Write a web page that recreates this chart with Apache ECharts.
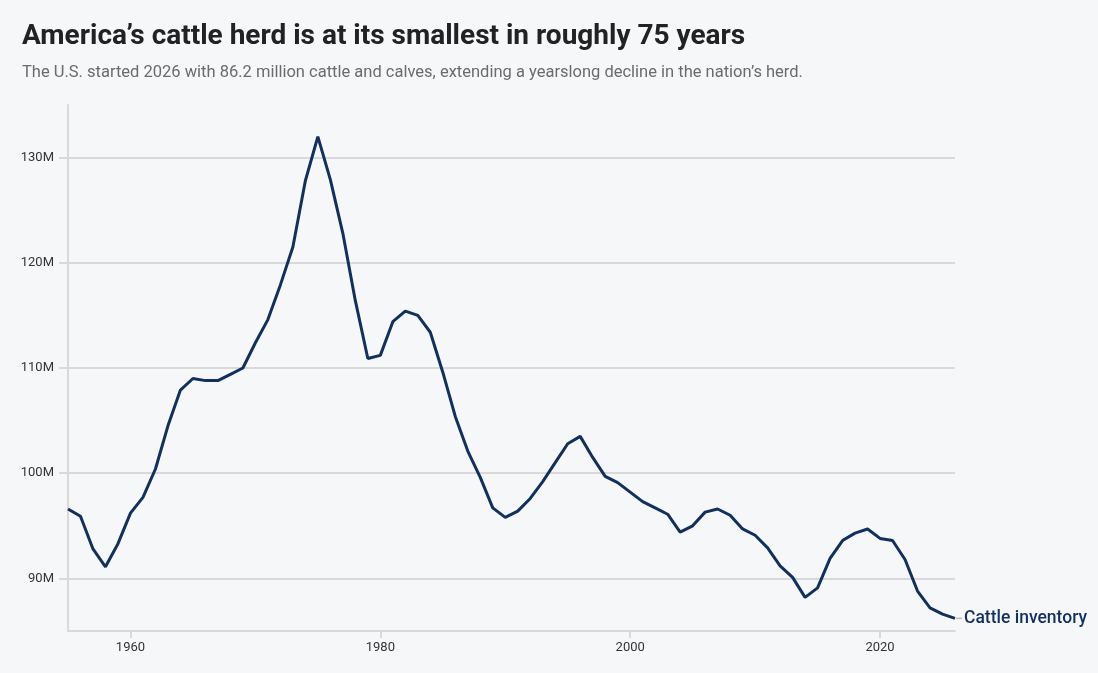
<!DOCTYPE html>
<html>
<head>
<meta charset="utf-8">
<script src="https://cdn.jsdelivr.net/npm/echarts@6/dist/echarts.min.js"></script>
<style>
html,body{margin:0;padding:0;background:#f6f7f9;}
#c{width:1098px;height:673px;}
</style>
</head>
<body>
<div id="c"></div>
<script>
const years = [1955,1956,1957,1958,1959,1960,1961,1962,1963,1964,1965,1966,1967,1968,1969,
1970,1971,1972,1973,1974,1975,1976,1977,1978,1979,1980,1981,1982,1983,1984,1985,1986,1987,1988,1989,
1990,1991,1992,1993,1994,1995,1996,1997,1998,1999,2000,2001,2002,2003,2004,2005,2006,2007,2008,2009,
2010,2011,2012,2013,2014,2015,2016,2017,2018,2019,2020,2021,2022,2023,2024,2025,2026];
const cattle = [96.6,95.9,92.8,91.1,93.3,96.2,97.7,100.4,104.5,107.9,109.0,108.8,108.8,109.4,110.0,
112.4,114.6,117.9,121.5,127.8,132.0,127.9,122.8,116.4,110.9,111.2,114.4,115.4,115.0,113.4,109.6,105.4,102.1,99.6,96.7,
95.8,96.4,97.6,99.2,101.0,102.8,103.5,101.5,99.7,99.1,98.2,97.3,96.7,96.1,94.4,95.0,96.3,96.6,96.0,94.7,
94.1,92.9,91.2,90.1,88.2,89.1,91.9,93.6,94.3,94.7,93.8,93.6,91.8,88.8,87.2,86.6,86.2];
const yTicks = [90,100,110,120,130];
const xTicks = [1960,1980,2000,2020];
const seriesName = 'Cattle inventory';
const titleText = 'America’s cattle herd is at its smallest in roughly 75 years';
const subtitleText = 'The U.S. started 2026 with 86.2 million cattle and calves, extending a yearslong decline in the nation’s herd.';

const chart = echarts.init(document.getElementById('c'));
chart.setOption({
  backgroundColor: '#f6f7f9',
  animation: false,
  title: {
    text: titleText,
    subtext: subtitleText,
    left: 22, top: 23, padding: 0,
    itemGap: 13,
    textStyle: {fontFamily: 'Roboto', fontWeight: 'bold', fontSize: 28, color: '#222222'},
    subtextStyle: {fontFamily: 'Roboto', fontSize: 16.5, color: '#6b6b6b'}
  },
  grid: {left: 68, right: 143, top: 105, bottom: 42, containLabel: false},
  xAxis: {
    type: 'value', min: 1955, max: 2026,
    axisLine: {show: true, lineStyle: {color: '#d9d9d9', width: 2}},
    axisTick: {show: true, length: 7, lineStyle: {color: '#d9d9d9', width: 2}, customValues: xTicks},
    axisLabel: {customValues: xTicks, color: '#333', fontFamily: 'Roboto', fontSize: 13, margin: 10,
      formatter: v => String(v)},
    splitLine: {show: false}
  },
  yAxis: {
    type: 'value', min: 85, max: 135,
    axisLine: {show: true, lineStyle: {color: '#d9d9d9', width: 2}},
    axisTick: {show: true, length: 9, lineStyle: {color: '#d9d9d9', width: 2}, customValues: yTicks},
    axisLabel: {customValues: yTicks, color: '#333', fontFamily: 'Roboto', fontSize: 13, margin: 14,
      formatter: v => v + 'M'},
    splitLine: {show: true, lineStyle: {color: '#d9d9d9', width: 2}}
  },
  series: [{
    name: seriesName,
    type: 'line',
    data: years.map((y, i) => [y, cattle[i]]),
    showSymbol: false,
    lineStyle: {color: '#12305e', width: 3},
    itemStyle: {color: '#12305e'},
    endLabel: {
      show: true, distance: 1,
      formatter: '{d|}{t|' + seriesName + '}',
      rich: {
        d: {width: 6, height: 1.5, backgroundColor: '#bdbdbd'},
        t: {color: '#12305e', fontFamily: 'Roboto', fontSize: 17.5, fontWeight: 500, padding: [0, 0, 0, 2]}
      }
    }
  }]
});
</script>
</body>
</html>
